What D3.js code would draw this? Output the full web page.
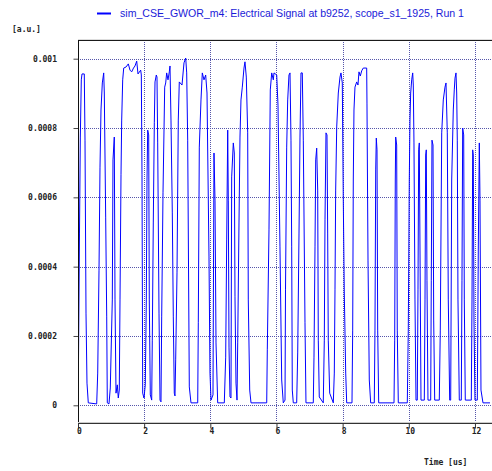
<!DOCTYPE html>
<html>
<head>
<meta charset="utf-8">
<script src="https://cdn.jsdelivr.net/npm/d3@7"></script>
<style>
  html, body { margin: 0; padding: 0; background: #ffffff; }
  svg { display: block; }
</style>
</head>
<body>
<svg id="chart" width="492" height="471"></svg>
<script>
// Scope trace: time in microseconds, signal in arbitrary units
const timeUs = [
  0.000, 0.015, 0.045, 0.070, 0.100, 0.121, 0.190, 0.212, 0.242, 0.272, 0.311, 0.565,
  0.596, 0.635, 0.665, 0.695, 0.735, 0.777, 0.795, 0.837, 0.868, 0.886, 0.937, 0.976,
  1.037, 1.058, 1.097, 1.119, 1.149, 1.188, 1.218, 1.248, 1.270, 1.300, 1.321, 1.351,
  1.382, 1.451, 1.521, 1.572, 1.623, 1.678, 1.723, 1.775, 1.814, 1.895, 1.914, 1.935,
  1.956, 1.995, 2.034, 2.065, 2.086, 2.107, 2.137, 2.155, 2.186, 2.228, 2.246, 2.276,
  2.307, 2.328, 2.367, 2.388, 2.409, 2.449, 2.479, 2.509, 2.530, 2.570, 2.621, 2.651,
  2.681, 2.721, 2.760, 2.781, 2.811, 2.851, 2.881, 2.911, 2.932, 2.953, 2.993, 3.032,
  3.062, 3.144, 3.204, 3.256, 3.286, 3.316, 3.365, 3.416, 3.619, 3.637, 3.667, 3.718,
  3.758, 3.809, 3.860, 3.900, 3.960, 3.990, 4.021, 4.081, 4.111, 4.142, 4.172, 4.223,
  4.423, 4.465, 4.495, 4.526, 4.544, 4.565, 4.595, 4.625, 4.646, 4.695, 4.725, 4.746,
  4.776, 4.807, 4.828, 4.867, 4.897, 4.927, 4.967, 5.018, 5.048, 5.088, 5.130, 5.148,
  5.191, 5.230, 5.705, 5.723, 5.774, 5.813, 5.856, 5.904, 5.925, 6.007, 6.046, 6.106,
  6.158, 6.206, 6.258, 6.273, 6.309, 6.339, 6.378, 6.409, 6.439, 6.460, 6.478, 6.509,
  6.611, 6.642, 6.681, 6.711, 6.741, 6.781, 6.811, 6.862, 6.892, 7.113, 7.134, 7.165,
  7.186, 7.216, 7.246, 7.264, 7.294, 7.415, 7.446, 7.467, 7.497, 7.527, 7.548, 7.566,
  7.609, 7.718, 7.748, 7.769, 7.790, 7.821, 7.869, 7.920, 7.950, 7.990, 8.020, 8.050,
  8.093, 8.123, 8.283, 8.304, 8.322, 8.343, 8.373, 8.425, 8.464, 8.494, 8.534, 8.576,
  8.624, 8.727, 8.736, 8.767, 8.806, 8.848, 8.957, 8.978, 9.000, 9.018, 9.039, 9.060,
  9.090, 9.553, 9.574, 9.592, 9.604, 9.634, 9.652, 9.683, 9.955, 9.985, 10.015, 10.036,
  10.057, 10.088, 10.118, 10.136, 10.157, 10.187, 10.218, 10.257, 10.278, 10.299, 10.318, 10.339,
  10.369, 10.469, 10.490, 10.511, 10.529, 10.550, 10.580, 10.662, 10.680, 10.701, 10.732, 10.753,
  10.783, 10.922, 10.952, 10.995, 11.043, 11.094, 11.125, 11.164, 11.194, 11.236, 11.267, 11.297,
  11.345, 11.375, 11.397, 11.427, 11.448, 11.466, 11.487, 11.527, 11.587, 11.608, 11.629, 11.660,
  11.678, 11.708, 11.890, 11.911, 11.932, 11.950, 11.971, 12.001, 12.071, 12.101, 12.132, 12.153,
  12.182, 12.243, 12.455
];

const signal = [
  0.000004, 0.000125, 0.000497, 0.000774, 0.000939, 0.000956, 0.000956, 0.000765, 0.000266, 0.000064, 0.000007, 0.000004,
  0.000093, 0.000390, 0.000685, 0.000852, 0.000930, 0.000959, 0.000901, 0.000543, 0.000255, 0.000007, 0.000004, 0.000050,
  0.000304, 0.000708, 0.000774, 0.000304, 0.000035, 0.000059, 0.000021, 0.000044, 0.000304, 0.000665, 0.000823, 0.000939,
  0.000973, 0.000976, 0.000985, 0.000967, 0.000962, 0.000973, 0.000979, 0.000993, 0.000956, 0.000967, 0.000953, 0.000665,
  0.000035, 0.000021, 0.000059, 0.000304, 0.000650, 0.000794, 0.000780, 0.000304, 0.000030, 0.000015, 0.000188, 0.000526,
  0.000815, 0.000933, 0.000953, 0.000947, 0.000757, 0.000266, 0.000015, 0.000010, 0.000255, 0.000613, 0.000918, 0.000930,
  0.000959, 0.000939, 0.000962, 0.000979, 0.000823, 0.000555, 0.000255, 0.000035, 0.000027, 0.000131, 0.000382, 0.000823,
  0.000933, 0.000924, 0.000988, 0.001002, 0.000959, 0.000765, 0.000053, 0.000007, 0.000007, 0.000238, 0.000745, 0.000881,
  0.000959, 0.000939, 0.000953, 0.000901, 0.000428, 0.000093, 0.000015, 0.000030, 0.000728, 0.000592, 0.000180, 0.000007,
  0.000007, 0.000139, 0.000477, 0.000794, 0.000592, 0.000168, 0.000024, 0.000021, 0.000659, 0.000757, 0.000728, 0.000313,
  0.000064, 0.000015, 0.000180, 0.000526, 0.000774, 0.000881, 0.000918, 0.000973, 0.000991, 0.000947, 0.000786, 0.000304,
  0.000044, 0.000007, 0.000007, 0.000160, 0.000506, 0.000910, 0.000959, 0.000939, 0.000959, 0.000953, 0.000866, 0.000457,
  0.000073, 0.000007, 0.000015, 0.000333, 0.000745, 0.000881, 0.000953, 0.000959, 0.000765, 0.000457, 0.000044, 0.000007,
  0.000007, 0.000151, 0.000497, 0.000774, 0.000959, 0.000959, 0.000765, 0.000238, 0.000007, 0.000007, 0.000139, 0.000457,
  0.000708, 0.000742, 0.000621, 0.000188, 0.000024, 0.000007, 0.000188, 0.000535, 0.000786, 0.000780, 0.000497, 0.000188,
  0.000035, 0.000007, 0.000093, 0.000333, 0.000621, 0.000803, 0.000901, 0.000947, 0.000959, 0.000930, 0.000592, 0.000324,
  0.000093, 0.000007, 0.000007, 0.000217, 0.000650, 0.000852, 0.000918, 0.000933, 0.000924, 0.000962, 0.000950, 0.000965,
  0.000973, 0.000973, 0.000872, 0.000419, 0.000073, 0.000007, 0.000007, 0.000217, 0.000679, 0.000771, 0.000737, 0.000217,
  0.000007, 0.000007, 0.000188, 0.000650, 0.000774, 0.000751, 0.000217, 0.000007, 0.000007, 0.000217, 0.000650, 0.000823,
  0.000901, 0.000939, 0.000959, 0.000924, 0.000757, 0.000304, 0.000015, 0.000015, 0.000333, 0.000737, 0.000757, 0.000448,
  0.000015, 0.000015, 0.000304, 0.000722, 0.000737, 0.000361, 0.000015, 0.000015, 0.000361, 0.000765, 0.000751, 0.000246,
  0.000015, 0.000015, 0.000217, 0.000786, 0.000881, 0.000918, 0.000930, 0.000786, 0.000304, 0.000015, 0.000015, 0.000650,
  0.000852, 0.000910, 0.000944, 0.000959, 0.000901, 0.000765, 0.000304, 0.000015, 0.000015, 0.000361, 0.000800, 0.000780,
  0.000304, 0.000015, 0.000015, 0.000304, 0.000737, 0.000722, 0.000246, 0.000015, 0.000015, 0.000448, 0.000757, 0.000592,
  0.000044, 0.000007, 0.000007
];

const xTickValues = [0, 2, 4, 6, 8, 10, 12];
const yTickValues = [0, 0.0002, 0.0004, 0.0006, 0.0008, 0.001];
const yTickLabels = ["0", "0.0002", "0.0004", "0.0006", "0.0008", "0.001"];

const legendText = "sim_CSE_GWOR_m4: Electrical Signal at b9252, scope_s1_1925, Run 1";
const yUnitText = "[a.u.]";
const xTitleText = "Time [us]";

const svg = d3.select("#chart");

// plot frame edges
const plotLeft = 78, plotRight = 492, plotTop = 40, plotBottom = 423;

const x = d3.scaleLinear().domain([0, 12.455]).range([plotLeft, 490]);
const y = d3.scaleLinear().domain([0, 0.001]).range([405.3, 58.7]);

const pixelFont = "'DejaVu Sans Mono', monospace";

// dotted grid
const grid = svg.append("g").attr("stroke", "#5656aa").attr("stroke-width", 1)
  .attr("stroke-dasharray", "1,1").attr("fill", "none");
grid.selectAll("line.v").data(xTickValues.filter(d => d > 0)).join("line")
  .attr("class", "v")
  .attr("x1", d => Math.round(x(d)) + 0.5).attr("x2", d => Math.round(x(d)) + 0.5)
  .attr("y1", plotTop).attr("y2", plotBottom);
grid.selectAll("line.h").data(yTickValues).join("line")
  .attr("class", "h")
  .attr("x1", plotLeft).attr("x2", plotRight)
  .attr("y1", d => Math.round(y(d)) + 0.5).attr("y2", d => Math.round(y(d)) + 0.5);

// signal trace
svg.append("clipPath").attr("id", "plotClip")
  .append("rect").attr("x", plotLeft + 0.5).attr("y", plotTop)
  .attr("width", plotRight - plotLeft).attr("height", plotBottom - plotTop);

const pts = timeUs.map((t, i) => [t, signal[i]]);
const line = d3.line().x(d => x(d[0])).y(d => y(d[1]));
svg.append("path")
  .attr("clip-path", "url(#plotClip)")
  .attr("d", line(pts))
  .attr("fill", "none")
  .attr("stroke", "#0000ff")
  .attr("stroke-width", 1)
  .attr("stroke-linejoin", "miter");

// frame lines
svg.append("line").attr("x1", plotLeft).attr("x2", plotRight).attr("y1", plotTop + 0.5).attr("y2", plotTop + 0.5)
  .attr("stroke", "#1a1a1a").attr("stroke-width", 1);
svg.append("line").attr("x1", plotLeft).attr("x2", plotRight).attr("y1", plotTop - 0.5).attr("y2", plotTop - 0.5)
  .attr("stroke", "#dddddd").attr("stroke-width", 1);

// y axis
const yAxis = d3.axisLeft(y).tickValues(yTickValues).tickSize(5).tickFormat("");
const gy = svg.append("g").attr("transform", `translate(${plotLeft + 0.5},0)`).call(yAxis);
gy.select(".domain").remove();
gy.selectAll(".tick line").attr("stroke", "#444");
svg.append("line").attr("x1", plotLeft + 0.5).attr("x2", plotLeft + 0.5).attr("y1", plotTop).attr("y2", plotBottom)
  .attr("stroke", "#111").attr("stroke-width", 1);
svg.append("g").selectAll("text").data(yTickValues).join("text")
  .attr("x", 57).attr("y", d => y(d) + 3)
  .attr("text-anchor", "end")
  .attr("font-family", pixelFont).attr("font-weight", "bold").attr("font-size", 8)
  .attr("fill", "#222")
  .text((d, i) => yTickLabels[i]);

// x axis
const xAxis = d3.axisBottom(x).tickValues(xTickValues).tickSize(5).tickFormat("");
const gx = svg.append("g").attr("transform", `translate(0,${plotBottom + 0.5})`).call(xAxis);
gx.select(".domain").remove();
gx.selectAll(".tick line").attr("stroke", "#333");
svg.append("line").attr("x1", plotLeft).attr("x2", plotRight).attr("y1", plotBottom + 0.5).attr("y2", plotBottom + 0.5)
  .attr("stroke", "#333").attr("stroke-width", 1);
svg.append("line").attr("x1", plotLeft).attr("x2", plotRight).attr("y1", plotBottom - 0.5).attr("y2", plotBottom - 0.5)
  .attr("stroke", "#cccccc").attr("stroke-width", 1);
svg.append("g").selectAll("text").data(xTickValues).join("text")
  .attr("x", d => x(d) + 1.5).attr("y", 434)
  .attr("text-anchor", "middle")
  .attr("font-family", pixelFont).attr("font-weight", "bold").attr("font-size", 8)
  .attr("fill", "#222")
  .text(d => d);

// axis titles
svg.append("text").attr("x", 12).attr("y", 32)
  .attr("font-family", pixelFont).attr("font-weight", "bold").attr("font-size", 8)
  .attr("fill", "#222").text(yUnitText);
svg.append("text").attr("x", 424).attr("y", 464.5)
  .attr("font-family", pixelFont).attr("font-weight", "bold").attr("font-size", 8)
  .attr("fill", "#222").text(xTitleText);

// legend
svg.append("line").attr("x1", 97).attr("x2", 111).attr("y1", 13.5).attr("y2", 13.5)
  .attr("stroke", "#0000ff").attr("stroke-width", 2);
svg.append("text").attr("x", 120).attr("y", 17.3)
  .attr("font-family", "'Liberation Sans', Arial, sans-serif").attr("font-size", 10.2)
  .attr("fill", "#1a1ad8")
  .attr("textLength", 344).attr("lengthAdjust", "spacingAndGlyphs")
  .text(legendText);
</script>
</body>
</html>
